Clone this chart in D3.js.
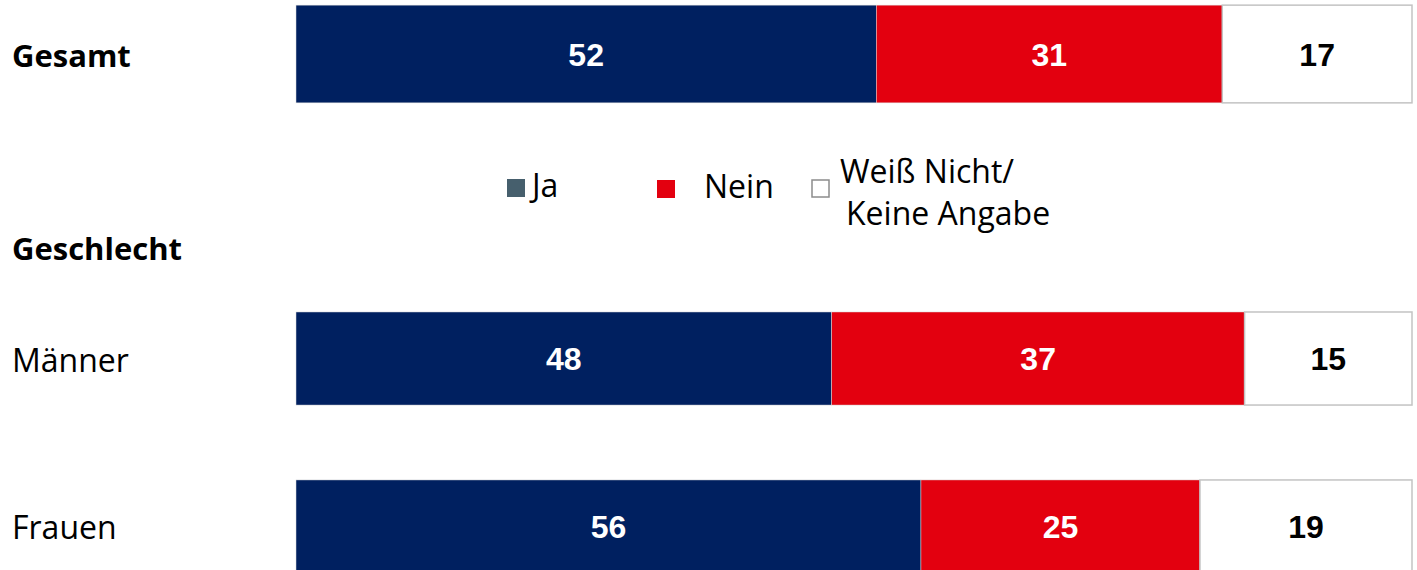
<!DOCTYPE html>
<html>
<head>
<meta charset="utf-8">
<script src="https://cdn.jsdelivr.net/npm/d3@7"></script>
<style>
  html, body { margin: 0; padding: 0; background: #fff; }
  svg { display: block; }
</style>
</head>
<body>
<svg id="chart" width="1417" height="570"></svg>
<script>
// categories and answers
var totalRows = ["Gesamt"];
var genderRows = ["Männer", "Frauen"];
var groupTitle = "Geschlecht";
var answers = ["Ja", "Nein", "Weiß Nicht/ Keine Angabe"];

// percentages per row: Ja, Nein, Weiß nicht
var jaValues = [52, 48, 56];
var neinValues = [31, 37, 25];
var wnValues = [17, 15, 19];

var barColors = ["#002060", "#e3000f", "#ffffff"];
var legendColors = ["#465f6d", "#e3000f", "#ffffff"];

var svg = d3.select("#chart");
var width = 1417, height = 570;

var x = d3.scaleLinear().domain([0, 100]).range([296, 1412]);

// one band for the total row, one band scale for the gender block
var yTotal = d3.scaleBand().domain(totalRows).range([0, 108]).padding(0.05);
var yGender = d3.scaleBand().domain(genderRows).range([270, 615])
    .paddingInner(0.446).paddingOuter(0.25);

var allRows = totalRows.concat(genderRows);
function rowY(name) { return totalRows.includes(name) ? yTotal(name) : yGender(name); }
function rowH(name) { return totalRows.includes(name) ? yTotal.bandwidth() : yGender.bandwidth(); }

// stacked data
var rows = allRows.map((name, i) => ({ name: name, vals: [jaValues[i], neinValues[i], wnValues[i]] }));
var segs = [];
rows.forEach(r => {
    var acc = 0;
    r.vals.forEach((v, k) => {
        segs.push({ row: r.name, k: k, x0: acc, x1: acc + v, v: v });
        acc += v;
    });
});

var bars = svg.append("g");
bars.selectAll("rect")
    .data(segs)
    .join("rect")
        .attr("x", d => x(d.x0))
        .attr("y", d => rowY(d.row))
        .attr("width", d => x(d.x1) - x(d.x0))
        .attr("height", d => rowH(d.row))
        .attr("fill", d => barColors[d.k])
        .attr("stroke", d => d.k == 2 ? "#c3c3c3" : "#d9d9d9")
        .attr("stroke-width", d => d.k == 2 ? 1.5 : 0.5);

bars.selectAll("text")
    .data(segs)
    .join("text")
        .attr("x", d => (x(d.x0) + x(d.x1)) / 2)
        .attr("y", d => rowY(d.row) + rowH(d.row) / 2)
        .attr("dy", "0.36em")
        .attr("text-anchor", "middle")
        .attr("font-family", "'Liberation Sans', Arial, sans-serif")
        .attr("font-weight", "bold")
        .attr("font-size", 32)
        .attr("fill", d => d.k == 2 ? "#000" : "#fff")
        .text(d => d.v);

// row labels
var labels = svg.append("g")
    .attr("font-family", "'Open Sans', sans-serif")
    .attr("fill", "#000");

labels.selectAll("text.row")
    .data(allRows)
    .join("text")
        .attr("class", "row")
        .attr("x", 12)
        .attr("y", d => rowY(d) + rowH(d) / 2 + 13)
        .attr("font-weight", d => totalRows.includes(d) ? "bold" : "normal")
        .attr("font-size", d => totalRows.includes(d) ? 31 : 32)
        .text(d => d);

labels.append("text")
    .attr("x", 12)
    .attr("y", 260)
    .attr("font-weight", "bold")
    .attr("font-size", 31)
    .text(groupTitle);

// legend
var legend = svg.append("g")
    .attr("font-family", "'Open Sans', sans-serif")
    .attr("font-size", 32)
    .attr("fill", "#000");

var legendPos = [{ sx: 507, sy: 179, tx: 532, ty: 197 },
                 { sx: 657, sy: 180, tx: 704, ty: 198 },
                 { sx: 812, sy: 180, tx: 840, ty: 183 }];

answers.forEach((a, i) => {
    var p = legendPos[i];
    legend.append("rect")
        .attr("x", p.sx)
        .attr("y", p.sy)
        .attr("width", i == 2 ? 17 : 18)
        .attr("height", i == 2 ? 17 : 18)
        .attr("fill", legendColors[i])
        .attr("stroke", i == 2 ? "#8c8c8c" : "none")
        .attr("stroke-width", 1.5);
    var t = legend.append("text")
        .attr("x", p.tx)
        .attr("y", p.ty);
    a.split(" ").length > 2
        ? a.split("/ ").forEach((line, j) => {
            t.append("tspan")
                .attr("x", p.tx + j * 6)
                .attr("y", p.ty + j * 42)
                .text(j == 0 ? line + "/" : line);
        })
        : t.text(a);
});
</script>
</body>
</html>
